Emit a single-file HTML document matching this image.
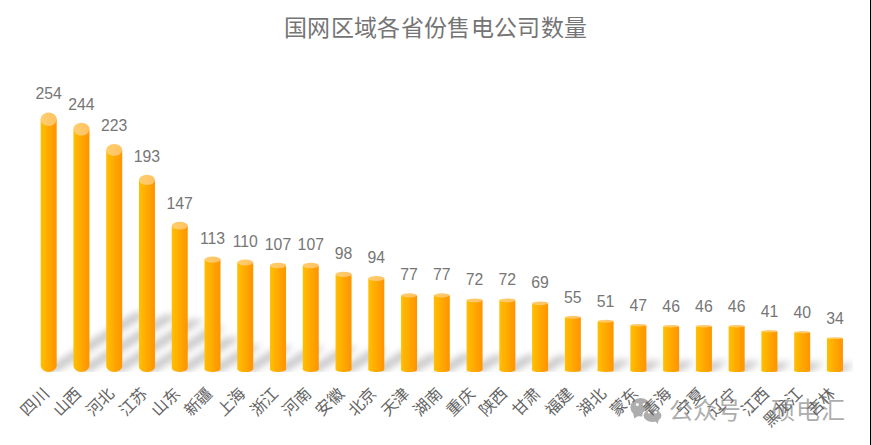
<!DOCTYPE html>
<html lang="zh-CN"><head><meta charset="utf-8">
<style>
html,body{margin:0;padding:0;background:#fff;}
body{width:871px;height:445px;overflow:hidden;position:relative;font-family:"Liberation Sans",sans-serif;}
#t{position:absolute;left:284px;top:13.3px;font-size:23px;letter-spacing:0.35px;color:#757575;white-space:nowrap;line-height:30px;}
svg{position:absolute;left:0;top:0;}
.num text{font-size:15.8px;fill:#767676;text-anchor:middle;}
.cat text{font-size:16px;fill:#646464;text-anchor:end;}
.wm{position:absolute;font-size:24px;color:#adadad;white-space:nowrap;line-height:30px;top:395.5px;}
#wm1{left:669px;} #wm2{left:771px;letter-spacing:1px;}
#rl{position:absolute;left:870px;top:0;width:1px;height:445px;background:#000;}
</style></head><body>
<div id="t">国网区域各省份售电公司数量</div>
<svg width="871" height="445" viewBox="0 0 871 445" style="position:absolute;left:0;top:0">
<g><g fill="#adadad">
<ellipse cx="640.6" cy="407.3" rx="10.2" ry="9.2"/>
<path d="M633.2,413 L634.2,418.6 L639,415.6 Z"/>
<ellipse cx="652.5" cy="415.6" rx="9.6" ry="7" stroke="#fff" stroke-width="1.2"/>
<path d="M654,419.5 L657.6,424 L659,418.5 Z"/>
</g>
<g fill="#fff"><circle cx="637.3" cy="404.4" r="1.5"/><circle cx="644.2" cy="404.4" r="1.5"/><circle cx="649.2" cy="412.2" r="1.25"/><circle cx="655.6" cy="412.2" r="1.25"/></g></g>
<circle cx="752.6" cy="411" r="1.6" fill="#adadad"/>
</svg>
<div id="wm1" class="wm">公众号</div><div id="wm2" class="wm">硕电汇</div>
<svg width="871" height="445" viewBox="0 0 871 445">
<defs>
<linearGradient id="gb" x1="0" y1="0" x2="1" y2="0">
<stop offset="0" stop-color="#ffc000"/><stop offset="0.45" stop-color="#ffab00"/><stop offset="0.8" stop-color="#ff9b00"/><stop offset="1" stop-color="#ff9400"/>
</linearGradient>
<linearGradient id="gc" x1="0" y1="0" x2="1" y2="0">
<stop offset="0" stop-color="#ffcf6c"/><stop offset="1" stop-color="#ffc163"/>
</linearGradient>
<filter id="blur" x="-50%" y="-50%" width="200%" height="200%"><feGaussianBlur stdDeviation="3.5"/></filter>
<clipPath id="pc"><rect x="33" y="0" width="820" height="372.0"/></clipPath>
</defs>
<g clip-path="url(#pc)"><g filter="url(#blur)" fill="#000" fill-opacity="0.22"><path d="M132.73,313.85 L133.63,313.45 L135.03,313.07 L136.81,312.75 L138.85,312.50 L141.03,312.35 L143.18,312.29 L145.17,312.35 L146.85,312.50 L148.12,312.75 L148.88,313.07 L149.09,313.45 L148.73,313.85 L59.16,370.45 L58.25,370.85 L56.86,371.22 L55.08,371.55 L53.03,371.79 L50.85,371.95 L48.70,372.00 L46.71,371.95 L45.03,371.79 L43.76,371.55 L43.00,371.22 L42.79,370.85 L43.16,370.45 Z"/><path d="M161.86,316.14 L162.75,315.75 L164.11,315.39 L165.87,315.08 L167.91,314.85 L170.07,314.70 L172.22,314.65 L174.21,314.70 L175.91,314.85 L177.19,315.08 L177.97,315.39 L178.20,315.75 L177.86,316.14 L91.82,370.51 L90.94,370.89 L89.57,371.25 L87.81,371.56 L85.78,371.80 L83.61,371.95 L81.46,372.00 L79.47,371.95 L77.78,371.80 L76.49,371.56 L75.71,371.25 L75.48,370.89 L75.82,370.51 Z"/><path d="M187.01,320.94 L187.85,320.59 L189.16,320.26 L190.88,319.98 L192.88,319.76 L195.03,319.63 L197.17,319.58 L199.17,319.63 L200.88,319.76 L202.20,319.98 L203.02,320.26 L203.30,320.59 L203.01,320.94 L124.38,370.64 L123.55,370.99 L122.23,371.32 L120.51,371.60 L118.51,371.82 L116.36,371.95 L114.22,372.00 L112.22,371.95 L110.51,371.82 L109.19,371.60 L108.37,371.32 L108.09,370.99 L108.38,370.64 Z"/><path d="M208.91,327.81 L209.66,327.51 L210.91,327.22 L212.57,326.98 L214.52,326.79 L216.64,326.67 L218.77,326.63 L220.78,326.67 L222.52,326.79 L223.88,326.98 L224.77,327.22 L225.12,327.51 L224.91,327.81 L156.85,370.82 L156.09,371.13 L154.84,371.41 L153.18,371.65 L151.23,371.84 L149.11,371.96 L146.98,372.00 L144.97,371.96 L143.23,371.84 L141.87,371.65 L140.99,371.41 L140.64,371.13 L140.85,370.82 Z"/><path d="M225.00,338.34 L225.64,338.11 L226.78,337.90 L228.35,337.71 L230.23,337.57 L232.30,337.48 L234.42,337.45 L236.44,337.48 L238.23,337.57 L239.66,337.71 L240.64,337.90 L241.09,338.11 L241.00,338.34 L189.16,371.10 L188.52,371.33 L187.38,371.55 L185.81,371.74 L183.93,371.88 L181.86,371.97 L179.74,372.00 L177.72,371.97 L175.93,371.88 L174.50,371.74 L173.52,371.55 L173.07,371.33 L173.16,371.10 Z"/><path d="M245.44,346.13 L246.00,345.95 L247.06,345.78 L248.56,345.64 L250.39,345.53 L252.43,345.46 L254.53,345.44 L256.57,345.46 L258.39,345.53 L259.87,345.64 L260.92,345.78 L261.45,345.95 L261.44,346.13 L221.59,371.31 L221.04,371.49 L219.97,371.65 L218.48,371.80 L216.65,371.91 L214.61,371.98 L212.50,372.00 L210.47,371.98 L208.65,371.91 L207.16,371.80 L206.12,371.65 L205.58,371.49 L205.59,371.31 Z"/><path d="M277.11,346.82 L277.66,346.64 L278.72,346.48 L280.21,346.34 L282.04,346.23 L284.07,346.17 L286.18,346.14 L288.21,346.17 L290.04,346.23 L291.52,346.34 L292.57,346.48 L293.12,346.64 L293.11,346.82 L254.32,371.33 L253.78,371.50 L252.72,371.66 L251.23,371.80 L249.40,371.91 L247.37,371.98 L245.26,372.00 L243.23,371.98 L241.40,371.91 L239.91,371.80 L238.86,371.66 L238.32,371.50 L238.32,371.33 Z"/><path d="M308.79,347.50 L309.33,347.33 L310.38,347.18 L311.86,347.04 L313.68,346.94 L315.72,346.87 L317.82,346.85 L319.86,346.87 L321.68,346.94 L323.18,347.04 L324.23,347.18 L324.78,347.33 L324.79,347.50 L287.05,371.35 L286.51,371.52 L285.47,371.67 L283.98,371.81 L282.16,371.91 L280.13,371.98 L278.02,372.00 L275.98,371.98 L274.16,371.91 L272.67,371.81 L271.61,371.67 L271.06,371.52 L271.05,371.35 Z"/><path d="M341.55,347.50 L342.09,347.33 L343.14,347.18 L344.62,347.04 L346.44,346.94 L348.48,346.87 L350.58,346.85 L352.62,346.87 L354.44,346.94 L355.94,347.04 L356.99,347.18 L357.54,347.33 L357.55,347.50 L319.81,371.35 L319.27,371.52 L318.23,371.67 L316.74,371.81 L314.92,371.91 L312.89,371.98 L310.78,372.00 L308.74,371.98 L306.92,371.91 L305.43,371.81 L304.37,371.67 L303.82,371.52 L303.81,371.35 Z"/><path d="M371.05,349.56 L371.56,349.41 L372.59,349.26 L374.06,349.14 L375.87,349.04 L377.89,348.98 L379.99,348.96 L382.03,348.98 L383.87,349.04 L385.37,349.14 L386.45,349.26 L387.02,349.41 L387.05,349.56 L352.49,371.40 L351.97,371.56 L350.94,371.70 L349.47,371.82 L347.67,371.92 L345.64,371.98 L343.54,372.00 L341.50,371.98 L339.67,371.92 L338.16,371.82 L337.09,371.70 L336.52,371.56 L336.49,371.40 Z"/><path d="M402.36,350.48 L402.86,350.33 L403.88,350.19 L405.34,350.07 L407.14,349.98 L409.16,349.92 L411.27,349.90 L413.31,349.92 L415.14,349.98 L416.66,350.07 L417.74,350.19 L418.32,350.33 L418.36,350.48 L385.21,371.43 L384.70,371.57 L383.68,371.71 L382.22,371.83 L380.42,371.92 L378.40,371.98 L376.30,372.00 L374.26,371.98 L372.42,371.92 L370.91,371.83 L369.83,371.71 L369.25,371.57 L369.21,371.43 Z"/><path d="M428.96,354.37 L429.42,354.25 L430.40,354.14 L431.83,354.04 L433.60,353.96 L435.61,353.92 L437.70,353.90 L439.75,353.92 L441.60,353.96 L443.14,354.04 L444.26,354.14 L444.88,354.25 L444.96,354.37 L417.80,371.53 L417.34,371.65 L416.36,371.76 L414.93,371.86 L413.16,371.94 L411.16,371.98 L409.06,372.00 L407.01,371.98 L405.16,371.94 L403.62,371.86 L402.50,371.76 L401.88,371.65 L401.80,371.53 Z"/><path d="M461.72,354.37 L462.18,354.25 L463.16,354.14 L464.59,354.04 L466.36,353.96 L468.37,353.92 L470.46,353.90 L472.51,353.92 L474.36,353.96 L475.90,354.04 L477.02,354.14 L477.64,354.25 L477.72,354.37 L450.56,371.53 L450.10,371.65 L449.12,371.76 L447.69,371.86 L445.92,371.94 L443.92,371.98 L441.82,372.00 L439.77,371.98 L437.92,371.94 L436.38,371.86 L435.26,371.76 L434.64,371.65 L434.56,371.53 Z"/><path d="M492.67,355.52 L493.12,355.40 L494.09,355.30 L495.50,355.20 L497.27,355.13 L499.27,355.09 L501.36,355.08 L503.41,355.09 L505.27,355.13 L506.82,355.20 L507.94,355.30 L508.57,355.40 L508.67,355.52 L483.28,371.56 L482.82,371.67 L481.86,371.78 L480.44,371.87 L478.67,371.94 L476.67,371.99 L474.58,372.00 L472.53,371.99 L470.67,371.94 L469.13,371.87 L468.00,371.78 L467.37,371.67 L467.28,371.56 Z"/><path d="M525.43,355.52 L525.88,355.40 L526.85,355.30 L528.26,355.20 L530.03,355.13 L532.03,355.09 L534.12,355.08 L536.17,355.09 L538.03,355.13 L539.58,355.20 L540.70,355.30 L541.33,355.40 L541.43,355.52 L516.04,371.56 L515.58,371.67 L514.62,371.78 L513.20,371.87 L511.43,371.94 L509.43,371.99 L507.34,372.00 L505.29,371.99 L503.43,371.94 L501.89,371.87 L500.76,371.78 L500.13,371.67 L500.04,371.56 Z"/><path d="M557.10,356.20 L557.54,356.09 L558.50,355.99 L559.91,355.90 L561.68,355.84 L563.67,355.80 L565.77,355.78 L567.81,355.80 L569.68,355.84 L571.23,355.90 L572.36,355.99 L573.00,356.09 L573.10,356.20 L548.77,371.58 L548.32,371.69 L547.36,371.79 L545.95,371.88 L544.19,371.94 L542.19,371.99 L540.10,372.00 L538.05,371.99 L536.19,371.94 L534.64,371.88 L533.51,371.79 L532.87,371.69 L532.77,371.58 Z"/><path d="M584.79,359.41 L585.20,359.32 L586.12,359.24 L587.51,359.17 L589.25,359.12 L591.23,359.08 L593.32,359.07 L595.37,359.08 L597.25,359.12 L598.82,359.17 L599.98,359.24 L600.65,359.32 L600.79,359.41 L581.39,371.66 L580.98,371.75 L580.05,371.83 L578.67,371.90 L576.93,371.95 L574.95,371.99 L572.86,372.00 L570.81,371.99 L568.93,371.95 L567.36,371.90 L566.20,371.83 L565.53,371.75 L565.39,371.66 Z"/><path d="M616.10,360.32 L616.50,360.24 L617.42,360.17 L618.79,360.10 L620.52,360.05 L622.50,360.02 L624.59,360.01 L626.64,360.02 L628.52,360.05 L630.10,360.10 L631.27,360.17 L631.95,360.24 L632.10,360.32 L614.11,371.69 L613.71,371.77 L612.79,371.84 L611.42,371.91 L609.69,371.96 L607.71,371.99 L605.62,372.00 L603.57,371.99 L601.69,371.96 L600.11,371.91 L598.94,371.84 L598.26,371.77 L598.11,371.69 Z"/><path d="M647.41,361.24 L647.80,361.17 L648.71,361.10 L650.07,361.04 L651.80,360.99 L653.78,360.96 L655.86,360.95 L657.92,360.96 L659.80,360.99 L661.39,361.04 L662.56,361.10 L663.25,361.17 L663.41,361.24 L646.83,371.71 L646.44,371.79 L645.54,371.86 L644.17,371.92 L642.44,371.96 L640.47,371.99 L638.38,372.00 L636.32,371.99 L634.44,371.96 L632.86,371.92 L631.68,371.86 L630.99,371.79 L630.83,371.71 Z"/><path d="M679.81,361.47 L680.19,361.40 L681.10,361.33 L682.46,361.27 L684.19,361.22 L686.17,361.20 L688.25,361.19 L690.31,361.20 L692.19,361.22 L693.78,361.27 L694.96,361.33 L695.65,361.40 L695.81,361.47 L679.58,371.72 L679.20,371.79 L678.29,371.86 L676.93,371.92 L675.20,371.96 L673.23,371.99 L671.14,372.00 L669.08,371.99 L667.20,371.96 L665.61,371.92 L664.43,371.86 L663.74,371.79 L663.58,371.72 Z"/><path d="M712.57,361.47 L712.95,361.40 L713.86,361.33 L715.22,361.27 L716.95,361.22 L718.93,361.20 L721.01,361.19 L723.07,361.20 L724.95,361.22 L726.54,361.27 L727.72,361.33 L728.41,361.40 L728.57,361.47 L712.34,371.72 L711.96,371.79 L711.05,371.86 L709.69,371.92 L707.96,371.96 L705.99,371.99 L703.90,372.00 L701.84,371.99 L699.96,371.96 L698.37,371.92 L697.19,371.86 L696.50,371.79 L696.34,371.72 Z"/><path d="M745.33,361.47 L745.71,361.40 L746.62,361.33 L747.98,361.27 L749.71,361.22 L751.69,361.20 L753.77,361.19 L755.83,361.20 L757.71,361.22 L759.30,361.27 L760.48,361.33 L761.17,361.40 L761.33,361.47 L745.10,371.72 L744.72,371.79 L743.81,371.86 L742.45,371.92 L740.72,371.96 L738.75,371.99 L736.66,372.00 L734.60,371.99 L732.72,371.96 L731.13,371.92 L729.95,371.86 L729.26,371.79 L729.10,371.72 Z"/><path d="M776.27,362.61 L776.65,362.55 L777.54,362.49 L778.90,362.44 L780.62,362.40 L782.59,362.37 L784.67,362.36 L786.73,362.37 L788.62,362.40 L790.21,362.44 L791.40,362.49 L792.10,362.55 L792.27,362.61 L777.82,371.75 L777.44,371.81 L776.55,371.87 L775.19,371.93 L773.47,371.97 L771.50,371.99 L769.42,372.00 L767.36,371.99 L765.47,371.97 L763.88,371.93 L762.69,371.87 L761.99,371.81 L761.82,371.75 Z"/><path d="M808.67,362.84 L809.04,362.78 L809.94,362.72 L811.29,362.67 L813.01,362.63 L814.98,362.61 L817.06,362.60 L819.12,362.61 L821.01,362.63 L822.60,362.67 L823.79,362.72 L824.50,362.78 L824.67,362.84 L810.57,371.76 L810.19,371.82 L809.30,371.88 L807.95,371.93 L806.23,371.97 L804.26,371.99 L802.18,372.00 L800.12,371.99 L798.23,371.97 L796.64,371.93 L795.45,371.88 L794.74,371.82 L794.57,371.76 Z"/><path d="M839.26,364.22 L839.62,364.16 L840.49,364.11 L841.83,364.07 L843.54,364.04 L845.51,364.02 L847.59,364.01 L849.65,364.02 L851.54,364.04 L853.15,364.07 L854.35,364.11 L855.07,364.16 L855.26,364.22 L843.27,371.79 L842.91,371.85 L842.03,371.90 L840.69,371.94 L838.98,371.97 L837.02,371.99 L834.94,372.00 L832.88,371.99 L830.98,371.97 L829.38,371.94 L828.18,371.90 L827.46,371.85 L827.27,371.79 Z"/></g></g>
<g><path d="M40.70,119.16 L56.70,119.16 L56.70,365.25 A8.00,6.75 0 0 1 40.70,365.25 Z" fill="url(#gb)"/><ellipse cx="48.70" cy="119.16" rx="8.00" ry="6.75" fill="url(#gc)"/><path d="M73.46,129.12 L89.46,129.12 L89.46,365.52 A8.00,6.48 0 0 1 73.46,365.52 Z" fill="url(#gb)"/><ellipse cx="81.46" cy="129.12" rx="8.00" ry="6.48" fill="url(#gc)"/><path d="M106.22,150.02 L122.22,150.02 L122.22,366.07 A8.00,5.93 0 0 1 106.22,366.07 Z" fill="url(#gb)"/><ellipse cx="114.22" cy="150.02" rx="8.00" ry="5.93" fill="url(#gc)"/><path d="M138.98,179.88 L154.98,179.88 L154.98,366.87 A8.00,5.13 0 0 1 138.98,366.87 Z" fill="url(#gb)"/><ellipse cx="146.98" cy="179.88" rx="8.00" ry="5.13" fill="url(#gc)"/><path d="M171.74,225.67 L187.74,225.67 L187.74,368.09 A8.00,3.91 0 0 1 171.74,368.09 Z" fill="url(#gb)"/><ellipse cx="179.74" cy="225.67" rx="8.00" ry="3.91" fill="url(#gc)"/><path d="M204.50,259.52 L220.50,259.52 L220.50,369.00 A8.00,3.00 0 0 1 204.50,369.00 Z" fill="url(#gb)"/><ellipse cx="212.50" cy="259.52" rx="8.00" ry="3.00" fill="url(#gc)"/><path d="M237.26,262.50 L253.26,262.50 L253.26,369.08 A8.00,2.92 0 0 1 237.26,369.08 Z" fill="url(#gb)"/><ellipse cx="245.26" cy="262.50" rx="8.00" ry="2.92" fill="url(#gc)"/><path d="M270.02,265.49 L286.02,265.49 L286.02,369.16 A8.00,2.84 0 0 1 270.02,369.16 Z" fill="url(#gb)"/><ellipse cx="278.02" cy="265.49" rx="8.00" ry="2.84" fill="url(#gc)"/><path d="M302.78,265.49 L318.78,265.49 L318.78,369.16 A8.00,2.84 0 0 1 302.78,369.16 Z" fill="url(#gb)"/><ellipse cx="310.78" cy="265.49" rx="8.00" ry="2.84" fill="url(#gc)"/><path d="M335.54,274.45 L351.54,274.45 L351.54,369.40 A8.00,2.60 0 0 1 335.54,369.40 Z" fill="url(#gb)"/><ellipse cx="343.54" cy="274.45" rx="8.00" ry="2.60" fill="url(#gc)"/><path d="M368.30,278.43 L384.30,278.43 L384.30,369.50 A8.00,2.50 0 0 1 368.30,369.50 Z" fill="url(#gb)"/><ellipse cx="376.30" cy="278.43" rx="8.00" ry="2.50" fill="url(#gc)"/><path d="M401.06,295.35 L417.06,295.35 L417.06,369.95 A8.00,2.05 0 0 1 401.06,369.95 Z" fill="url(#gb)"/><ellipse cx="409.06" cy="295.35" rx="8.00" ry="2.05" fill="url(#gc)"/><path d="M433.82,295.35 L449.82,295.35 L449.82,369.95 A8.00,2.05 0 0 1 433.82,369.95 Z" fill="url(#gb)"/><ellipse cx="441.82" cy="295.35" rx="8.00" ry="2.05" fill="url(#gc)"/><path d="M466.58,300.33 L482.58,300.33 L482.58,370.09 A8.00,1.91 0 0 1 466.58,370.09 Z" fill="url(#gb)"/><ellipse cx="474.58" cy="300.33" rx="8.00" ry="1.91" fill="url(#gc)"/><path d="M499.34,300.33 L515.34,300.33 L515.34,370.09 A8.00,1.91 0 0 1 499.34,370.09 Z" fill="url(#gb)"/><ellipse cx="507.34" cy="300.33" rx="8.00" ry="1.91" fill="url(#gc)"/><path d="M532.10,303.32 L548.10,303.32 L548.10,370.17 A8.00,1.83 0 0 1 532.10,370.17 Z" fill="url(#gb)"/><ellipse cx="540.10" cy="303.32" rx="8.00" ry="1.83" fill="url(#gc)"/><path d="M564.86,317.25 L580.86,317.25 L580.86,370.54 A8.00,1.46 0 0 1 564.86,370.54 Z" fill="url(#gb)"/><ellipse cx="572.86" cy="317.25" rx="8.00" ry="1.46" fill="url(#gc)"/><path d="M597.62,321.23 L613.62,321.23 L613.62,370.64 A8.00,1.36 0 0 1 597.62,370.64 Z" fill="url(#gb)"/><ellipse cx="605.62" cy="321.23" rx="8.00" ry="1.36" fill="url(#gc)"/><path d="M630.38,325.21 L646.38,325.21 L646.38,370.75 A8.00,1.25 0 0 1 630.38,370.75 Z" fill="url(#gb)"/><ellipse cx="638.38" cy="325.21" rx="8.00" ry="1.25" fill="url(#gc)"/><path d="M663.14,326.21 L679.14,326.21 L679.14,370.78 A8.00,1.22 0 0 1 663.14,370.78 Z" fill="url(#gb)"/><ellipse cx="671.14" cy="326.21" rx="8.00" ry="1.22" fill="url(#gc)"/><path d="M695.90,326.21 L711.90,326.21 L711.90,370.78 A8.00,1.22 0 0 1 695.90,370.78 Z" fill="url(#gb)"/><ellipse cx="703.90" cy="326.21" rx="8.00" ry="1.22" fill="url(#gc)"/><path d="M728.66,326.21 L744.66,326.21 L744.66,370.78 A8.00,1.22 0 0 1 728.66,370.78 Z" fill="url(#gb)"/><ellipse cx="736.66" cy="326.21" rx="8.00" ry="1.22" fill="url(#gc)"/><path d="M761.42,331.19 L777.42,331.19 L777.42,370.91 A8.00,1.09 0 0 1 761.42,370.91 Z" fill="url(#gb)"/><ellipse cx="769.42" cy="331.19" rx="8.00" ry="1.09" fill="url(#gc)"/><path d="M794.18,332.18 L810.18,332.18 L810.18,370.94 A8.00,1.06 0 0 1 794.18,370.94 Z" fill="url(#gb)"/><ellipse cx="802.18" cy="332.18" rx="8.00" ry="1.06" fill="url(#gc)"/><path d="M826.94,338.16 L842.94,338.16 L842.94,371.10 A8.00,0.90 0 0 1 826.94,371.10 Z" fill="url(#gb)"/><ellipse cx="834.94" cy="338.16" rx="8.00" ry="0.90" fill="url(#gc)"/></g>
<g class="num"><text x="48.70" y="99.41">254</text><text x="81.46" y="109.63">244</text><text x="114.22" y="131.09">223</text><text x="146.98" y="161.75">193</text><text x="179.74" y="208.77">147</text><text x="212.50" y="243.51">113</text><text x="245.26" y="246.58">110</text><text x="278.02" y="249.65">107</text><text x="310.78" y="249.65">107</text><text x="343.54" y="258.84">98</text><text x="376.30" y="262.93">94</text><text x="409.06" y="280.31">77</text><text x="441.82" y="280.31">77</text><text x="474.58" y="285.42">72</text><text x="507.34" y="285.42">72</text><text x="540.10" y="288.48">69</text><text x="572.86" y="302.79">55</text><text x="605.62" y="306.88">51</text><text x="638.38" y="310.97">47</text><text x="671.14" y="311.99">46</text><text x="703.90" y="311.99">46</text><text x="736.66" y="311.99">46</text><text x="769.42" y="317.10">41</text><text x="802.18" y="318.12">40</text><text x="834.94" y="324.25">34</text></g>
<g class="cat"><text x="50.00" y="394.30" transform="rotate(-45 50.00 394.30)">四川</text><text x="82.76" y="394.30" transform="rotate(-45 82.76 394.30)">山西</text><text x="115.52" y="394.30" transform="rotate(-45 115.52 394.30)">河北</text><text x="148.28" y="394.30" transform="rotate(-45 148.28 394.30)">江苏</text><text x="181.04" y="394.30" transform="rotate(-45 181.04 394.30)">山东</text><text x="213.80" y="394.30" transform="rotate(-45 213.80 394.30)">新疆</text><text x="246.56" y="394.30" transform="rotate(-45 246.56 394.30)">上海</text><text x="279.32" y="394.30" transform="rotate(-45 279.32 394.30)">浙江</text><text x="312.08" y="394.30" transform="rotate(-45 312.08 394.30)">河南</text><text x="344.84" y="394.30" transform="rotate(-45 344.84 394.30)">安徽</text><text x="377.60" y="394.30" transform="rotate(-45 377.60 394.30)">北京</text><text x="410.36" y="394.30" transform="rotate(-45 410.36 394.30)">天津</text><text x="443.12" y="394.30" transform="rotate(-45 443.12 394.30)">湖南</text><text x="475.88" y="394.30" transform="rotate(-45 475.88 394.30)">重庆</text><text x="508.64" y="394.30" transform="rotate(-45 508.64 394.30)">陕西</text><text x="541.40" y="394.30" transform="rotate(-45 541.40 394.30)">甘肃</text><text x="574.16" y="394.30" transform="rotate(-45 574.16 394.30)">福建</text><text x="606.92" y="394.30" transform="rotate(-45 606.92 394.30)">湖北</text><text x="639.68" y="394.30" transform="rotate(-45 639.68 394.30)">蒙东</text><text x="672.44" y="394.30" transform="rotate(-45 672.44 394.30)">青海</text><text x="705.20" y="394.30" transform="rotate(-45 705.20 394.30)">宁夏</text><text x="737.96" y="394.30" transform="rotate(-45 737.96 394.30)">辽宁</text><text x="770.72" y="394.30" transform="rotate(-45 770.72 394.30)">江西</text><text x="803.48" y="394.30" transform="rotate(-45 803.48 394.30)">黑龙江</text><text x="836.24" y="394.30" transform="rotate(-45 836.24 394.30)">吉林</text></g>
</svg>
<div id="rl"></div>
</body></html>
